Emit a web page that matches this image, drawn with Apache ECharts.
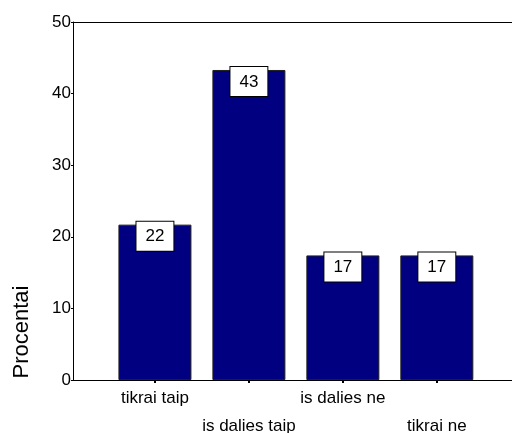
<!DOCTYPE html>
<html>
<head>
<meta charset="utf-8">
<style>
html,body{margin:0;padding:0;background:#fff;}
#c{width:512px;height:433px;}
</style>
<script src="https://cdn.jsdelivr.net/npm/echarts@6/dist/echarts.min.js"></script>
</head>
<body>
<div id="c"></div>
<script>
var categories = ['tikrai taip', 'is dalies taip', 'is dalies ne', 'tikrai ne'];
var values = [21.7, 43.3, 17.4, 17.4];
var yTicks = [0, 10, 20, 30, 40, 50];
var yName = 'Procentai';

var positions = categories.map(function (c, i) { return i + 1; });
var FONT = '"Liberation Sans", Arial, sans-serif';

var chart = echarts.init(document.getElementById('c'), null, {renderer: 'canvas'});
chart.setOption({
  animation: false,
  backgroundColor: '#ffffff',
  grid: {left: 73, right: 0, top: 22, bottom: 53, outerBoundsMode: 'none', containLabel: false},
  xAxis: [{
    type: 'value',
    min: 0.128,
    max: 4.8,
    position: 'bottom',
    splitLine: {show: false},
    axisLine: {show: true, onZero: false, lineStyle: {color: '#000', width: 1}},
    axisTick: {show: true, customValues: positions, length: 3, lineStyle: {color: '#000', width: 2}},
    axisLabel: {
      show: true,
      customValues: positions,
      margin: 4,
      color: '#000',
      fontFamily: FONT,
      fontSize: 17,
      lineHeight: 28,
      verticalAlign: 'top',
      formatter: function (v) {
        var i = Math.round(v) - 1;
        var name = categories[i] || '';
        return (i % 2 === 1) ? '\n' + name : name;
      }
    }
  }, {
    type: 'value',
    min: 0.128,
    max: 4.8,
    position: 'top',
    splitLine: {show: false},
    axisLine: {show: true, onZero: false, lineStyle: {color: '#000', width: 1}},
    axisTick: {show: false},
    axisLabel: {show: false}
  }],
  yAxis: {
    type: 'value',
    min: yTicks[0],
    max: yTicks[yTicks.length - 1],
    interval: yTicks[1] - yTicks[0],
    splitLine: {show: false},
    axisLine: {show: true, lineStyle: {color: '#000', width: 1}},
    axisTick: {show: true, length: 2, lineStyle: {color: '#000'}},
    axisLabel: {margin: 2, color: '#000', fontFamily: FONT, fontSize: 17}
  },
  graphic: [{
    type: 'text',
    x: 22,
    y: 332,
    rotation: Math.PI / 2,
    style: {
      text: yName,
      fontFamily: FONT,
      fontSize: 22,
      fill: '#000',
      textAlign: 'center',
      textVerticalAlign: 'middle'
    }
  }],
  series: [{
    type: 'bar',
    xAxisIndex: 0,
    barWidth: 73,
    data: values.map(function (v, i) { return [positions[i], v]; }),
    itemStyle: {color: '#000080', borderColor: '#202020', borderWidth: 1},
    label: {
      show: true,
      position: 'insideTop',
      distance: 0,
      offset: [0, -3],
      formatter: function (p) { return String(Math.round(p.value[1])); },
      color: '#000',
      fontFamily: FONT,
      fontSize: 17,
      lineHeight: 18,
      backgroundColor: '#fff',
      borderColor: '#000',
      borderWidth: 1,
      padding: [6, 9, 5, 9]
    }
  }]
});
</script>
</body>
</html>
